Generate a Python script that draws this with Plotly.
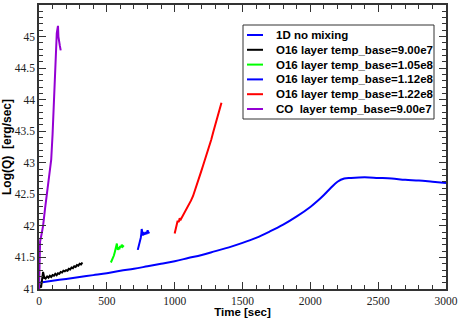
import plotly.graph_objects as go

# 1D no mixing
t_1d = [0, 100, 200, 300, 400, 500, 600, 700, 800, 900, 1000, 1100, 1200, 1300, 1400, 1500,
        1600, 1700, 1800, 1900, 2000, 2050, 2100, 2150, 2200, 2250, 2300, 2400, 2500, 2600, 2700, 2800, 2900, 3000]
q_1d = [41.10, 41.13, 41.16, 41.19, 41.22, 41.25, 41.29, 41.32, 41.36, 41.40, 41.44, 41.49, 41.54, 41.60, 41.66, 41.73,
        41.81, 41.91, 42.02, 42.15, 42.30, 42.39, 42.49, 42.60, 42.70, 42.75, 42.76, 42.77, 42.76, 42.75, 42.73, 42.72, 42.70, 42.68]

# O16 layer temp_base=9.00e7
t_a = [0, 5, 10, 15, 20, 25, 30, 35, 40, 45, 50, 60, 70, 80, 90, 100, 110, 120, 130, 140, 150, 160, 170, 180,
       190, 200, 210, 220, 230, 240, 250, 260, 270, 280, 290, 300, 310, 320]
q_a = [41.00, 41.03, 41.06, 41.02, 41.10, 41.20, 41.27, 41.22, 41.16, 41.19, 41.17, 41.20, 41.18, 41.21, 41.19, 41.22, 41.21, 41.24, 41.22, 41.25,
       41.24, 41.27, 41.26, 41.29, 41.28, 41.30, 41.29, 41.32, 41.31, 41.34, 41.33, 41.36, 41.35, 41.38, 41.37, 41.40, 41.39, 41.42]

# O16 layer temp_base=1.05e8
t_b = [530, 537, 545, 552, 558, 563, 568, 574, 578, 581, 586, 592, 598, 604, 610, 617, 625]
q_b = [41.42, 41.45, 41.50, 41.53, 41.58, 41.62, 41.66, 41.72, 41.65, 41.62, 41.66, 41.63, 41.68, 41.66, 41.70, 41.67, 41.69]

# O16 layer temp_base=1.12e8
t_c = [728, 733, 739, 745, 750, 754, 757, 761, 765, 771, 778, 785, 792, 801, 806, 811]
q_c = [41.62, 41.66, 41.70, 41.76, 41.81, 41.87, 41.95, 41.90, 41.85, 41.88, 41.86, 41.90, 41.87, 41.93, 41.88, 41.91]

# O16 layer temp_base=1.22e8
t_d = [1000, 1008, 1015, 1022, 1030, 1037, 1045, 1055, 1065, 1075, 1090, 1105, 1120, 1135, 1150, 1165, 1180,
       1195, 1210, 1225, 1240, 1255, 1270, 1285, 1300, 1315, 1330, 1345]
q_d = [41.88, 41.94, 42.00, 42.08, 42.06, 42.12, 42.10, 42.14, 42.17, 42.20, 42.26, 42.33, 42.40, 42.47, 42.56, 42.66, 42.76,
       42.86, 42.96, 43.06, 43.15, 43.27, 43.37, 43.49, 43.60, 43.72, 43.84, 43.95]

# CO layer temp_base=9.00e7
t_e = [0, 3, 8, 20, 30, 45, 60, 75, 90, 100, 110, 118, 125, 131, 136, 140, 143, 148, 154, 160]
q_e = [41.00, 41.50, 41.75, 41.88, 42.00, 42.28, 42.55, 42.80, 43.05, 43.45, 43.95, 44.45, 44.90, 45.05, 45.12, 45.17, 45.00, 44.90, 44.85, 44.78]

series_names = ["1D no mixing", "O16 layer temp_base=9.00e7", "O16 layer temp_base=1.05e8",
                "O16 layer temp_base=1.12e8", "O16 layer temp_base=1.22e8", "CO  layer temp_base=9.00e7"]
series_t = [t_1d, t_a, t_b, t_c, t_d, t_e]
series_q = [q_1d, q_a, q_b, q_c, q_d, q_e]
series_colors = ["#0000ff", "#000000", "#00ff00", "#0000ff", "#ff0000", "#9400d3"]

fig = go.Figure()
for name, t, q, col in zip(series_names, series_t, series_q, series_colors):
    fig.add_trace(go.Scatter(
        x=t, y=q, mode="lines", name=name, showlegend=False,
        line=dict(color=col, width=2, shape="spline" if name.startswith("1D") else "linear"),
    ))

axis_common = dict(
    showline=True, linecolor="#333333", linewidth=1.5, mirror="ticks",
    ticks="inside", ticklen=7, tickcolor="#333333", tickwidth=1,
    showgrid=False, zeroline=False, automargin=False,
    tickfont=dict(family="Liberation Serif", size=11.5, color="#222222"),
)

fig.update_xaxes(
    range=[0, 3000], dtick=500, tick0=0,
    minor=dict(dtick=100, ticks="inside", ticklen=4, tickcolor="#333333"),
    title=dict(text="<b>Time [sec]</b>", font=dict(family="Liberation Sans", size=11.5, color="black"), standoff=0),
    **axis_common,
)
fig.update_yaxes(
    range=[41, 45.5], dtick=0.5, tick0=41,
    minor=dict(dtick=0.1, ticks="inside", ticklen=4, tickcolor="#333333"),
    title=dict(text="<b>Log(Q)  [erg/sec]</b>", font=dict(family="Liberation Sans", size=12, color="black"), standoff=2),
    **axis_common,
)

# Manual legend (layout elements in paper coordinates)
W, H = 407.0, 284.0  # plot area size in px
def px(x):
    return x / W
def py(y):
    return 1 - y / H

leg_left, leg_right, leg_top, leg_bot = 204, 395, 20, 114
fig.add_shape(type="rect", xref="paper", yref="paper",
              x0=px(leg_left), x1=px(leg_right), y0=py(leg_bot), y1=py(leg_top),
              line=dict(color="#333333", width=1), fillcolor="white", layer="above")
row0, row_gap = 30, 14.8
for i, (name, col) in enumerate(zip(series_names, series_colors)):
    yy = py(row0 + i * row_gap)
    fig.add_shape(type="line", xref="paper", yref="paper",
                  x0=px(208), x1=px(224), y0=yy, y1=yy,
                  line=dict(color=col, width=2), layer="above")
    fig.add_annotation(xref="paper", yref="paper", x=px(235), y=yy,
                       xanchor="left", yanchor="middle", showarrow=False,
                       text="<b>" + name.replace("  ", "&nbsp; ") + "</b>",
                       font=dict(family="Liberation Sans", size=11.5, color="black"))

fig.update_layout(
    width=458, height=318,
    margin=dict(l=39, r=12, t=5, b=29),
    paper_bgcolor="white", plot_bgcolor="white",
    showlegend=False,
)

fig.write_html("out.html", config={"displayModeBar": False},
               post_script="document.body.style.margin='0';document.body.style.overflow='hidden';")
